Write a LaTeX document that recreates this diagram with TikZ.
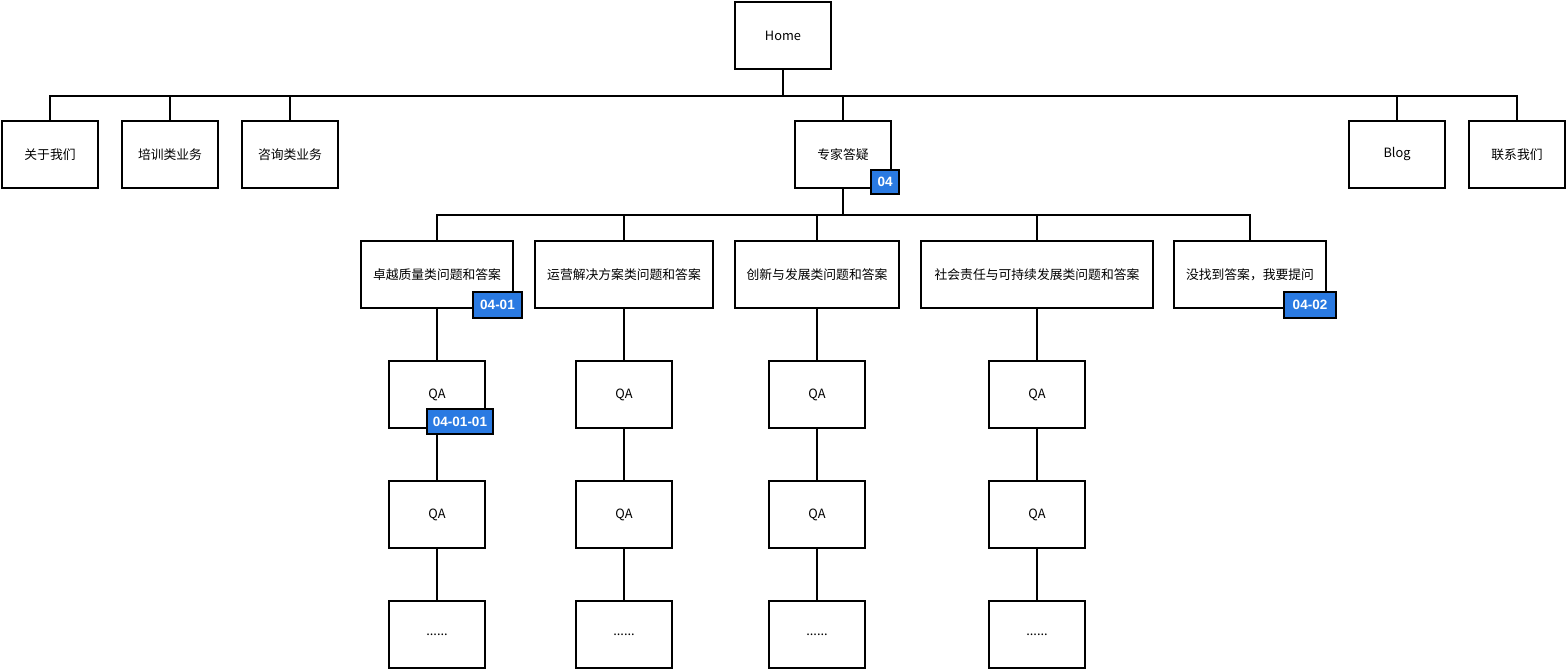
\documentclass[tikz,border=0pt]{standalone}
\usepackage{fontspec}
\setmainfont{Noto Sans CJK SC}
\newfontfamily\badgefont{Liberation Sans}
\definecolor{badgeblue}{RGB}{42,122,226}
\tikzset{
  pg/.style={draw=black, line width=1.9pt, fill=white, minimum height=67pt, inner sep=0pt, font=\fontsize{12.8}{15}\selectfont},
  badge/.style={draw=black, line width=1.6pt, fill=badgeblue, text=white, inner sep=0pt, font=\badgefont\bfseries\fontsize{13.5}{15}\selectfont},
  link/.style={line width=1.6pt, black}
}
\begin{document}
\begin{tikzpicture}[x=1pt,y=-1pt]
\useasboundingbox (0,0) rectangle (1567,670);
% top
\node[pg, minimum width=96pt] (home) at (783,35.5) {Home};
% level 1
\node[pg, minimum width=96pt] (gy) at (50,154.5) {关于我们};
\node[pg, minimum width=96pt] (px) at (170,154.5) {培训类业务};
\node[pg, minimum width=96pt] (zx) at (290,154.5) {咨询类业务};
\node[pg, minimum width=96pt] (zj) at (843,154.5) {专家答疑};
\node[pg, minimum width=96pt] (blog) at (1397,154.5) {Blog};
\node[pg, minimum width=96pt] (lx) at (1517,154.5) {联系我们};
% level 2
\node[pg, minimum width=152pt] (c1) at (437,274.5) {卓越质量类问题和答案};
\node[pg, minimum width=178pt] (c2) at (624,274.5) {运营解决方案类问题和答案};
\node[pg, minimum width=164pt] (c3) at (817,274.5) {创新与发展类问题和答案};
\node[pg, minimum width=232pt] (c4) at (1037,274.5) {社会责任与可持续发展类问题和答案};
\node[pg, minimum width=152pt] (c5) at (1250,274.5) {没找到答案，我要提问};
% QA rows
\foreach \c/\x in {1/437,2/624,3/817,4/1037}{
  \node[pg, minimum width=96pt] (q\c a) at (\x,394.5) {QA};
  \node[pg, minimum width=96pt] (q\c b) at (\x,514.5) {QA};
  \node[pg, minimum width=96pt] (q\c c) at (\x,634.5) {......};
}
% connectors
\foreach \n in {gy,px,zx,zj,blog,lx}{
  \draw[link] (home.south) -- ++(0,26) -| (\n.north);
}
\foreach \n in {c1,c2,c3,c4,c5}{
  \draw[link] (zj.south) -- ++(0,26) -| (\n.north);
}
\foreach \c in {1,2,3,4}{
  \draw[link] (c\c.south) -- (q\c a.north);
  \draw[link] (q\c a.south) -- (q\c b.north);
  \draw[link] (q\c b.south) -- (q\c c.north);
}
% badges
\node[badge, minimum width=28pt, minimum height=24pt] (b04) at (885,182) {04};
\node[badge, minimum width=49pt, minimum height=26pt] (b0401) at (497.5,305) {04-01};
\node[badge, minimum width=52pt, minimum height=26pt] (b0402) at (1310,305) {04-02};
\node[badge, minimum width=66pt, minimum height=25pt] (b040101) at (460,421.5) {04-01-01};
\end{tikzpicture}
\end{document}
